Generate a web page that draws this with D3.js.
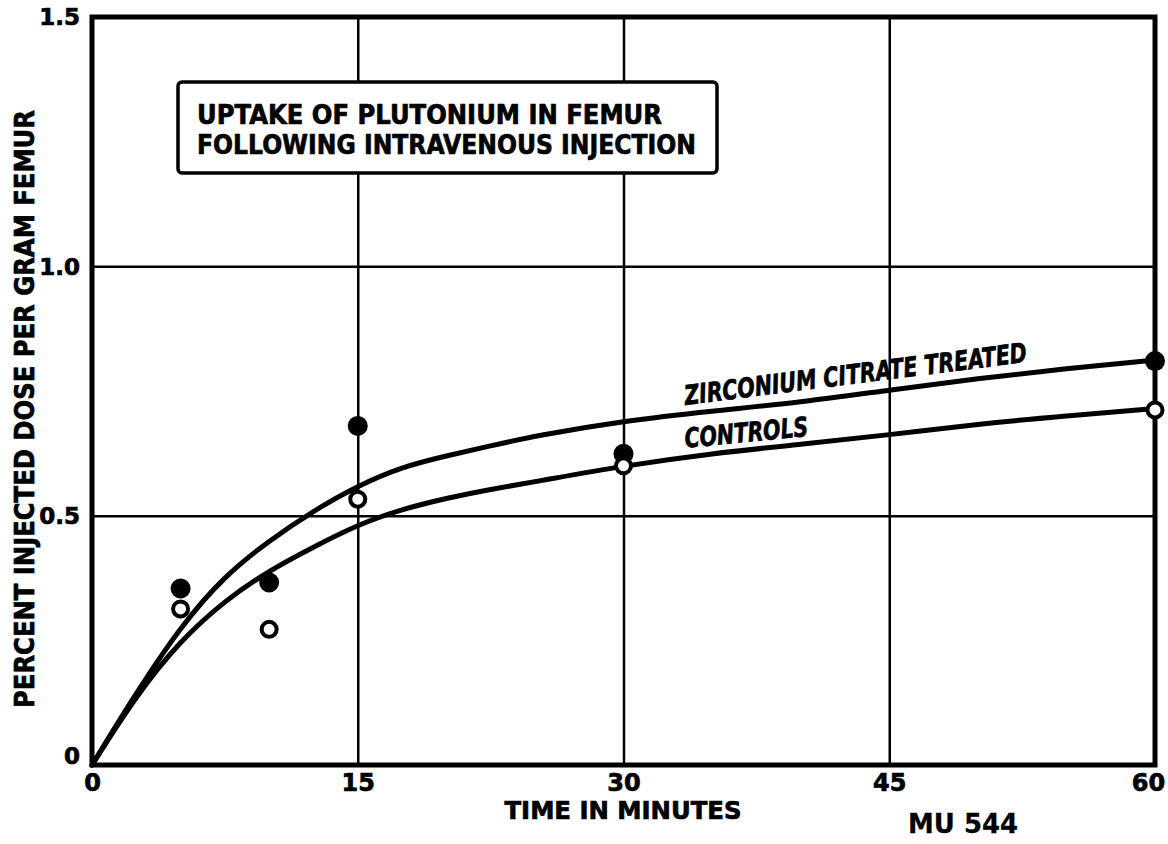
<!DOCTYPE html>
<html>
<head>
<meta charset="utf-8">
<script src="https://cdn.jsdelivr.net/npm/d3@7"></script>
<style>
  body { margin: 0; background: white; }
  text { font-family: "DejaVu Sans", "Liberation Sans", sans-serif; font-weight: bold; fill: black; stroke: black; stroke-width: 0.7px; }
</style>
</head>
<body>
<div id="chart"></div>
<script>
// data
var xTicks = [0, 15, 30, 45, 60];
var yTicks = [0, 0.5, 1.0, 1.5];
var yTickLabels = ["0", "0.5", "1.0", "1.5"];
var xGrid = [15, 30, 45];
var yGrid = [0.5, 1.0];

// fitted curves (minutes, percent dose per gram)
var curveMinutes = [0, 2.5, 5, 7.5, 10, 12.5, 15, 17.5, 20, 22.5, 25, 30, 35, 40, 45, 50, 55, 60];
var zrCurve = [0, 0.145, 0.278, 0.38, 0.45, 0.51, 0.56, 0.598, 0.62, 0.64, 0.66, 0.69, 0.71, 0.727, 0.752, 0.775, 0.795, 0.812];
var ctrlCurve = [0, 0.14, 0.25, 0.33, 0.39, 0.437, 0.482, 0.513, 0.535, 0.553, 0.568, 0.60, 0.625, 0.643, 0.662, 0.684, 0.70, 0.715];

// measured points
var pointMinutes = [5, 10, 15, 30, 60];
var zrPoints = [0.354, 0.366, 0.680, 0.624, 0.810];
var ctrlPoints = [0.313, 0.272, 0.533, 0.600, 0.712];

var titleLines = ["UPTAKE OF PLUTONIUM IN FEMUR", "FOLLOWING INTRAVENOUS INJECTION"];

var W = 1168, H = 844;
var margin = {top: 17, right: 13, bottom: 79, left: 92};

var svg = d3.select("#chart").append("svg")
    .attr("width", W)
    .attr("height", H);

//
// Scales
//
var x = d3.scaleLinear().domain([0, 60]).range([margin.left, W - margin.right]);
var y = d3.scaleLinear().domain([0, 1.5]).range([H - margin.bottom, margin.top]);
var plotW = x.range()[1] - x.range()[0];
var plotH = y.range()[0] - y.range()[1];

// gridlines
svg.append("g")
    .attr("transform", "translate(0," + y.range()[0] + ")")
    .call(d3.axisBottom(x).tickValues(xGrid).tickSize(-plotH).tickFormat(""))
    .call(g => g.select(".domain").remove())
    .selectAll("line").attr("stroke", "black").attr("stroke-width", 2.5);

svg.append("g")
    .attr("transform", "translate(" + x.range()[0] + ",0)")
    .call(d3.axisLeft(y).tickValues(yGrid).tickSize(-plotW).tickFormat(""))
    .call(g => g.select(".domain").remove())
    .selectAll("line").attr("stroke", "black").attr("stroke-width", 2.5);

// frame
svg.append("rect")
    .attr("x", x.range()[0])
    .attr("y", y.range()[1])
    .attr("width", plotW)
    .attr("height", plotH)
    .attr("fill", "none")
    .attr("stroke", "black")
    .attr("stroke-width", 5);

// tick labels
var xAxis = svg.append("g")
    .attr("transform", "translate(0," + y.range()[0] + ")")
    .call(d3.axisBottom(x).tickValues(xTicks).tickSize(0).tickPadding(9).tickFormat(d3.format("d")));
xAxis.select(".domain").remove();
xAxis.selectAll("text")
    .attr("font-family", null).attr("font-size", null)
    .style("font-size", "24px")
    .attr("dx", function(d) { return d === 60 ? -7 : 0; });

var yAxis = svg.append("g")
    .attr("transform", "translate(" + x.range()[0] + ",0)")
    .call(d3.axisLeft(y).tickValues(yTicks).tickSize(0).tickPadding(12)
        .tickFormat(function(d, i) { return yTickLabels[i]; }));
yAxis.select(".domain").remove();
yAxis.selectAll("text")
    .attr("font-family", null).attr("font-size", null)
    .style("font-size", "23px")
    .attr("dy", function(d) { return d === 0 ? "-0.05em" : "0.34em"; });

//
// Curves
//
var line = d3.line()
    .x(function(d) { return x(d[0]); })
    .y(function(d) { return y(d[1]); })
    .curve(d3.curveBasis);

[zrCurve, ctrlCurve].forEach(function(vals) {
    svg.append("path")
        .datum(curveMinutes.map(function(t, i) { return [t, vals[i]]; }))
        .attr("fill", "none")
        .attr("stroke", "black")
        .attr("stroke-width", 5)
        .attr("stroke-linecap", "round")
        .attr("d", line);
});

// points
svg.append("g").selectAll("circle")
    .data(pointMinutes.map(function(t, i) { return [t, zrPoints[i]]; }))
    .join("circle")
    .attr("cx", function(d) { return x(d[0]); })
    .attr("cy", function(d) { return y(d[1]); })
    .attr("r", 10)
    .attr("fill", "black");

svg.append("g").selectAll("circle")
    .data(pointMinutes.map(function(t, i) { return [t, ctrlPoints[i]]; }))
    .join("circle")
    .attr("cx", function(d) { return x(d[0]); })
    .attr("cy", function(d) { return y(d[1]); })
    .attr("r", 7.5)
    .attr("fill", "white")
    .attr("stroke", "black")
    .attr("stroke-width", 4);

// curve labels
svg.append("text")
    .attr("transform", "translate(" + x(33.5) + "," + y(0.722) + ") rotate(-7.2)")
    .style("font-style", "italic")
    .style("font-size", "27px")
    .attr("textLength", 345)
    .attr("lengthAdjust", "spacingAndGlyphs")
    .text("ZIRCONIUM CITRATE TREATED");

svg.append("text")
    .attr("transform", "translate(" + x(33.5) + "," + y(0.636) + ") rotate(-5.5)")
    .style("font-style", "italic")
    .style("font-size", "27px")
    .attr("textLength", 124)
    .attr("lengthAdjust", "spacingAndGlyphs")
    .text("CONTROLS");

//
// Title box
//
svg.append("rect")
    .attr("x", 178)
    .attr("y", 82)
    .attr("width", 539)
    .attr("height", 91)
    .attr("rx", 4)
    .attr("fill", "white")
    .attr("stroke", "black")
    .attr("stroke-width", 3.5);

svg.append("text")
    .attr("x", 197).attr("y", 124)
    .style("font-size", "26px")
    .attr("textLength", 465)
    .attr("lengthAdjust", "spacingAndGlyphs")
    .text(titleLines[0]);
svg.append("text")
    .attr("x", 197).attr("y", 154)
    .style("font-size", "26px")
    .attr("textLength", 499)
    .attr("lengthAdjust", "spacingAndGlyphs")
    .text(titleLines[1]);

// axis titles
svg.append("text")
    .attr("transform", "translate(34," + ((y.range()[0] + y.range()[1]) / 2 + 18) + ") rotate(-90)")
    .attr("text-anchor", "middle")
    .style("font-size", "26px")
    .attr("textLength", 598)
    .attr("lengthAdjust", "spacingAndGlyphs")
    .text("PERCENT INJECTED DOSE PER GRAM FEMUR");

svg.append("text")
    .attr("x", 623).attr("y", 819)
    .attr("text-anchor", "middle")
    .style("font-size", "25px")
    .attr("textLength", 237)
    .attr("lengthAdjust", "spacingAndGlyphs")
    .text("TIME IN MINUTES");

svg.append("text")
    .attr("x", 963).attr("y", 833)
    .attr("text-anchor", "middle")
    .style("font-size", "26px")
    .style("stroke-width", "0.3px")
    .attr("textLength", 110)
    .attr("lengthAdjust", "spacingAndGlyphs")
    .text("MU 544");
</script>
</body>
</html>
